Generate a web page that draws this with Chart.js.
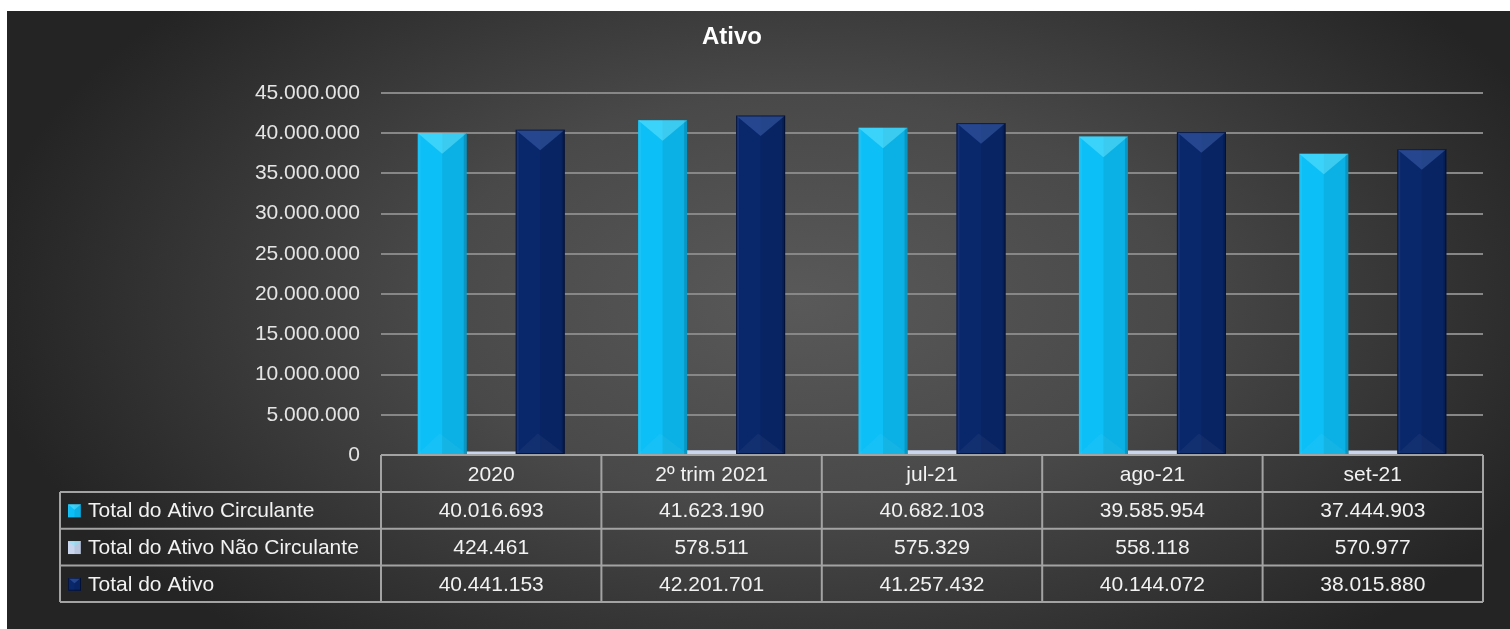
<!DOCTYPE html>
<html>
<head>
<meta charset="utf-8">
<title>Ativo</title>
<script src="https://cdn.jsdelivr.net/npm/chart.js@4.4.1/dist/chart.umd.min.js"></script>
<style>
    html, body { margin: 0; padding: 0; background: #fff; overflow: hidden; }
    canvas { display: block; }
</style>
</head>
<body>
<canvas id="ativoChart" width="1510" height="629"></canvas>
<script>
const categorias = ['2020', '2º trim 2021', 'jul-21', 'ago-21', 'set-21'];
const ativoCirculante = [40016693, 41623190, 40682103, 39585954, 37444903];
const ativoNaoCirculante = [424461, 578511, 575329, 558118, 570977];
const ativoTotal = [40441153, 42201701, 41257432, 40144072, 38015880];
const nomesSeries = ['Total do Ativo Circulante', 'Total do Ativo Não Circulante', 'Total do Ativo'];
const yMax = 45000000;
const yStep = 5000000;

const FONT = '"Liberation Sans", Arial, sans-serif';
const corCiano = '#0cbff6';
const corCinza = '#c9d6ee';
const corMarinho = '#09276b';

function fmt(n) {
    return String(n).replace(/\B(?=(\d{3})+(?!\d))/g, '.');
}

/*fundo + titulo*/
const fundoPlugin = {
    id: 'fundo',
    beforeDraw(chart) {
        const ctx = chart.ctx;
        const w = chart.width, h = chart.height;
        ctx.save();
        ctx.fillStyle = '#ffffff';
        ctx.fillRect(0, 0, w, h);
        ctx.beginPath();
        ctx.rect(7, 11, w - 7, h - 11);
        ctx.clip();
        ctx.translate(800, 300);
        ctx.scale(1, 0.55);
        const g = ctx.createRadialGradient(0, 0, 0, 0, 0, 820);
        g.addColorStop(0, '#595959');
        g.addColorStop(0.45, '#494949');
        g.addColorStop(1, '#242424');
        ctx.fillStyle = g;
        ctx.fillRect(-900, -700, 1900, 1400);
        ctx.restore();

        ctx.save();
        ctx.fillStyle = '#ffffff';
        ctx.font = 'bold 24px ' + FONT;
        ctx.textAlign = 'center';
        ctx.textBaseline = 'alphabetic';
        ctx.fillText('Ativo', 732, 44);
        ctx.restore();
    }
};

/*efeito 3d nas barras*/
function bisel(ctx, l, top, w, h, escuro) {
    const x = l + w / 2, r = l + w, base = top + h;
    const tri = Math.min(h, w * 0.42);
    const borda = Math.max(1, w * 0.06);
    ctx.fillStyle = 'rgba(0,0,0,0.07)';
    ctx.fillRect(x, top, w / 2, h);
    ctx.fillStyle = 'rgba(255,255,255,0.06)';
    ctx.fillRect(l, top, borda, h);
    ctx.fillStyle = 'rgba(0,0,0,0.15)';
    ctx.fillRect(r - borda, top, borda, h);
    if (h > w) {
        ctx.beginPath();
        ctx.moveTo(l, base);
        ctx.lineTo(l + w * 0.45, base - tri);
        ctx.lineTo(r, base);
        ctx.closePath();
        ctx.fillStyle = 'rgba(255,255,255,0.04)';
        ctx.fill();
    }
    ctx.beginPath();
    ctx.moveTo(l, top);
    ctx.lineTo(r, top);
    ctx.lineTo(x, top + tri);
    ctx.closePath();
    ctx.fillStyle = escuro ? 'rgba(100,140,220,0.32)' : 'rgba(120,235,255,0.45)';
    ctx.fill();
    if (escuro) {
        ctx.strokeStyle = 'rgba(0,10,40,0.7)';
        ctx.lineWidth = 1;
        ctx.strokeRect(l + 0.5, top + 0.5, w - 1, h - 1);
    }
}

const biselPlugin = {
    id: 'bisel',
    afterDatasetsDraw(chart) {
        const ctx = chart.ctx;
        ctx.save();
        chart.data.datasets.forEach((ds, i) => {
            const meta = chart.getDatasetMeta(i);
            meta.data.forEach(bar => {
                const p = bar.getProps(['x', 'y', 'base', 'width'], true);
                const h = p.base - p.y;
                if (h < 6) return;
                bisel(ctx, p.x - p.width / 2, p.y, p.width, h, i === 2);
            });
        });
        ctx.restore();
    }
};

/*tabela de dados*/
const tabelaPlugin = {
    id: 'tabela',
    afterDraw(chart) {
        const ctx = chart.ctx;
        const area = chart.chartArea;
        const xs = chart.scales.x;
        const colW = (area.right - area.left) / categorias.length;
        const topo = area.bottom;
        const cab = xs.bottom;
        const rowH = 36.7;
        const esq = 60;
        const fim = cab + rowH * 3;
        const series = [ativoCirculante, ativoNaoCirculante, ativoTotal];
        const cores = [corCiano, corCinza, corMarinho];

        ctx.save();
        ctx.strokeStyle = '#a3a3a3';
        ctx.lineWidth = 2;
        ctx.beginPath();
        ctx.moveTo(area.left, topo);
        ctx.lineTo(area.right, topo);
        for (let r = 0; r <= 3; r++) {
            ctx.moveTo(esq, cab + r * rowH);
            ctx.lineTo(area.right, cab + r * rowH);
        }
        ctx.moveTo(esq, cab);
        ctx.lineTo(esq, fim);
        for (let c = 0; c <= categorias.length; c++) {
            ctx.moveTo(area.left + c * colW, topo);
            ctx.lineTo(area.left + c * colW, fim);
        }
        ctx.stroke();

        ctx.font = '21px ' + FONT;
        ctx.textBaseline = 'middle';
        series.forEach((vals, r) => {
            const cy = cab + r * rowH + rowH / 2 + 1;
            ctx.fillStyle = cores[r];
            ctx.fillRect(68, cy - 7, 13, 13);
            bisel(ctx, 68, cy - 7, 13, 13, r === 2);
            ctx.fillStyle = '#f2f2f2';
            ctx.textAlign = 'left';
            ctx.fillText(nomesSeries[r], 88, cy);
            ctx.textAlign = 'center';
            vals.forEach((v, c) => {
                ctx.fillText(fmt(v), xs.getPixelForValue(c), cy);
            });
        });
        ctx.restore();
    }
};

const ctxAtivo = document.getElementById('ativoChart').getContext('2d');
new Chart(ctxAtivo, {
    type: 'bar',
    data: {
        labels: categorias,
        datasets: [
            {
                label: nomesSeries[0],
                data: ativoCirculante,
                backgroundColor: corCiano,
                categoryPercentage: 0.667,
                barPercentage: 1.0
            },
            {
                label: nomesSeries[1],
                data: ativoNaoCirculante,
                backgroundColor: corCinza,
                categoryPercentage: 0.667,
                barPercentage: 1.0
            },
            {
                label: nomesSeries[2],
                data: ativoTotal,
                backgroundColor: corMarinho,
                categoryPercentage: 0.667,
                barPercentage: 1.0
            }
        ]
    },
    plugins: [fundoPlugin, biselPlugin, tabelaPlugin],
    options: {
        responsive: false,
        animation: false,
        devicePixelRatio: 1,
        layout: {
            padding: { top: 93, right: 27, bottom: 137, left: 0 }
        },
        plugins: {
            legend: { display: false },
            title: { display: false },
            tooltip: { enabled: false }
        },
        scales: {
            y: {
                min: 0,
                max: yMax,
                afterFit(scale) { scale.width = 381; },
                ticks: {
                    stepSize: yStep,
                    padding: 21,
                    color: '#e4e4e4',
                    font: { family: FONT, size: 21 },
                    callback: v => fmt(v)
                },
                grid: {
                    color: '#878787',
                    lineWidth: 2,
                    drawTicks: false
                },
                border: { display: false }
            },
            x: {
                afterFit(scale) { scale.height = 37; },
                ticks: {
                    padding: 8,
                    color: '#f2f2f2',
                    font: { family: FONT, size: 21 }
                },
                grid: { display: false, drawTicks: false },
                border: { display: false }
            }
        }
    }
});
</script>
</body>
</html>
